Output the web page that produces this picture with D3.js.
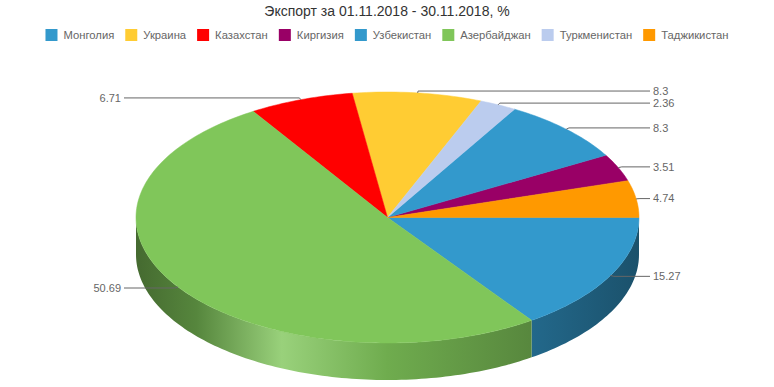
<!DOCTYPE html>
<html lang="ru">
<head>
<meta charset="utf-8">
<title>Экспорт</title>
<script src="https://cdnjs.cloudflare.com/ajax/libs/d3/7.8.5/d3.min.js"></script>
<style>
	body { margin: 0; background: #fff; }
	svg { display: block; font-family: "Liberation Sans", Arial, sans-serif; }
	.title { font-size: 14px; fill: #333; }
	.legend text { font-size: 11.25px; fill: #666; }
	.lbl { font-size: 11px; fill: #666; }
	.lbl-line { fill: none; stroke: #666; stroke-width: 1; }
</style>
</head>
<body>
<div id="chart"></div>
<script>
// data
var titleText = "Экспорт за 01.11.2018 - 30.11.2018, %";
var countries = ["Монголия", "Украина", "Казахстан", "Киргизия", "Узбекистан", "Азербайджан", "Туркменистан", "Таджикистан"];
var values = [15.27, 8.3, 6.71, 3.51, 8.3, 50.69, 2.36, 4.74];
var colors = ["#3399cc", "#ffcc33", "#ff0000", "#990066", "#3399cc", "#80c65a", "#bbccee", "#ff9900"];
// order of the slices round the pie, clockwise from 3 o'clock
var sliceOrder = ["Монголия", "Азербайджан", "Казахстан", "Украина", "Туркменистан", "Узбекистан", "Киргизия", "Таджикистан"];

var W = 774, H = 387;
var cx = 387.5, cy = 217.5, rx = 251.5, ry = 125.5, depth = 37;

var svg = d3.select("#chart").append("svg")
	.attr("width", W)
	.attr("height", H);

var defs = svg.append("defs");

svg.append("text")
	.attr("class", "title")
	.attr("x", W / 2)
	.attr("y", 16)
	.attr("text-anchor", "middle")
	.text(titleText);

// legend
var legend = svg.append("g").attr("class", "legend");
var items = legend.selectAll("g")
	.data(countries)
	.enter().append("g");
items.append("rect")
	.attr("width", 12).attr("height", 12)
	.attr("y", 29)
	.attr("fill", function(d, i) { return colors[i]; });
items.append("text")
	.attr("x", 18)
	.attr("y", 35)
	.attr("dy", ".35em")
	.text(function(d) { return d; });
var lx = 0, xs = [];
items.each(function(d, i) {
	var w = d3.select(this).select("text").node().getComputedTextLength();
	xs.push(lx);
	lx += 18 + w + 11;
});
var legendW = lx - 11;
var lx0 = (W - legendW) / 2;
items.attr("transform", function(d, i) { return "translate(" + (lx0 + xs[i]) + ",0)"; });

// pie
var rows = countries.map(function(c, i) { return { name: c, value: values[i], color: colors[i] }; });
var pie = d3.pie()
	.value(function(d) { return d.value; })
	.sort(function(a, b) { return sliceOrder.indexOf(a.name) - sliceOrder.indexOf(b.name); })
	.startAngle(Math.PI / 2)
	.endAngle(Math.PI / 2 + 2 * Math.PI);
var arcs = pie(rows);

function px(a, k) { return cx + rx * (k || 1) * Math.sin(a); }
function py(a, k) { return cy - ry * (k || 1) * Math.cos(a); }

function ellipseArc(a0, a1, dy) {
	var n = Math.max(2, Math.ceil(Math.abs(a1 - a0) / 0.02));
	var pts = [];
	for (var j = 0; j <= n; j++) {
		var a = a0 + (a1 - a0) * j / n;
		pts.push([px(a), py(a) + (dy || 0)]);
	}
	return pts;
}

function topPath(d) {
	var pts = [[cx, cy]].concat(ellipseArc(d.startAngle, d.endAngle));
	return "M" + pts.join("L") + "Z";
}

function sidePath(d) {
	var a0 = Math.max(d.startAngle, Math.PI / 2);
	var a1 = Math.min(d.endAngle, 3 * Math.PI / 2);
	if (a1 <= a0) return null;
	var up = ellipseArc(a0, a1, 0);
	var down = ellipseArc(a1, a0, depth);
	return "M" + up.concat(down).join("L") + "Z";
}

// gradients for the side walls
arcs.forEach(function(d, i) {
	var c = d3.rgb(d.data.color);
	var g = defs.append("linearGradient")
		.attr("id", "side" + i)
		.attr("gradientUnits", "userSpaceOnUse")
		.attr("x1", cx - rx).attr("x2", cx + rx)
		.attr("y1", 0).attr("y2", 0);
	var stops = [
		[0, c.darker(1.75)],
		[0.12, c.darker(1.1)],
		[0.29, d3.rgb(d3.interpolateRgb(c, "#fff")(0.2))],
		[0.5, c.darker(0.4)],
		[0.78, c.darker(1.05)],
		[1, c.darker(1.8)]
	];
	stops.forEach(function(s) {
		g.append("stop").attr("offset", s[0]).attr("stop-color", s[1].formatHex());
	});
});

var pieG = svg.append("g");
pieG.selectAll(".side")
	.data(arcs.filter(function(d) { return sidePath(d); }))
	.enter().append("path")
	.attr("class", "side")
	.attr("d", sidePath)
	.attr("fill", function(d) { return "url(#side" + arcs.indexOf(d) + ")"; });

pieG.selectAll(".top")
	.data(arcs)
	.enter().append("path")
	.attr("class", "top")
	.attr("d", topPath)
	.attr("fill", function(d) { return d.data.color; })
	.attr("stroke", function(d) { return d.data.color; })
	.attr("stroke-width", 0.5);

// labels
var leftX = 121, rightX = 653;
var lab = svg.append("g");
arcs.forEach(function(d) {
	var a = (d.startAngle + d.endAngle) / 2;
	var x0 = px(a), y0 = py(a);
	var x1 = px(a, 1.015), y1 = py(a, 1.015);
	var right = Math.sin(a) > 0;
	var xe = right ? rightX - 3 : leftX + 3;
	lab.append("path")
		.attr("class", "lbl-line")
		.attr("d", "M" + x0 + "," + y0 + "L" + x1 + "," + y1 + "L" + xe + "," + y1);
	lab.append("text")
		.attr("class", "lbl")
		.attr("x", right ? rightX : leftX)
		.attr("y", y1)
		.attr("dy", ".35em")
		.attr("text-anchor", right ? "start" : "end")
		.text(d.data.value);
});
</script>
</body>
</html>
